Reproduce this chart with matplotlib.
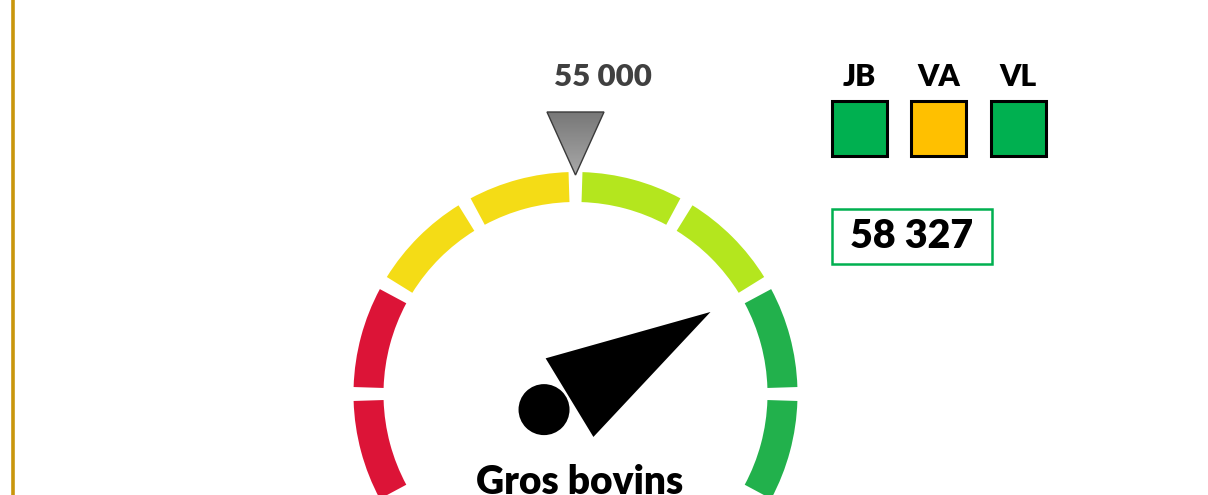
import numpy as np
import matplotlib
matplotlib.use("Agg")
import matplotlib.pyplot as plt
from matplotlib.patches import Wedge, Polygon, Circle, Rectangle

# ---------------- data ----------------
title = "Gros bovins"
value = 58327
target = 55000
gauge_min = 48200
gauge_max = 61800
zone_colors = ["#DC1437", "#DC1437", "#F4DC16", "#F4DC16",
               "#B4E61E", "#B4E61E", "#22B14C", "#22B14C"]
categories = ["JB", "VA", "VL"]
status_colors = ["#00B050", "#FFC000", "#00B050"]

def fmt(v):
    return f"{v:,}".replace(",", " ")

# ---------------- layout ----------------
W, H = 1208, 495
fig = plt.figure(figsize=(W / 100, H / 100), dpi=100)
ax = fig.add_axes([0, 0, 1, 1])
ax.set_xlim(0, W)
ax.set_ylim(0, H)
ax.set_aspect("equal")
ax.axis("off")

FONT = "Lato"
WEIGHT = "heavy"
cx, cy = 575.5, H - 394
r_out, ring_w = 222, 30
start_ang, span = 210.0, 240.0
gap = 3.6

def val2ang(v):
    return start_ang - (v - gauge_min) / (gauge_max - gauge_min) * span

# golden vertical line
ax.plot([13.3, 13.3], [0, H], color="#C9960C", lw=2.6, solid_capstyle="butt")

# gauge ring
n = len(zone_colors)
seg = span / n
for i, c in enumerate(zone_colors):
    a2 = start_ang - seg * i - gap / 2
    a1 = start_ang - seg * (i + 1) + gap / 2
    ax.add_patch(Wedge((cx, cy), r_out, a1, a2, width=ring_w, facecolor=c,
                       edgecolor="none"))

# needle
a = np.deg2rad(val2ang(value))
u = np.array([np.cos(a), np.sin(a)])
p = np.array([-u[1], u[0]])
c0 = np.array([cx, cy])
base = c0 - 7 * u
tip = base + 165 * u
tri = [base + 46 * p, base - 46 * p, tip]
ax.add_patch(Polygon(tri, closed=True, facecolor="black", edgecolor="none"))
ax.add_patch(Circle(c0 - 35 * u + 3 * p, 25.5, facecolor="black", edgecolor="none"))

# target marker (gradient triangle)
ta = np.deg2rad(val2ang(target))
apex = c0 + 219 * np.array([np.cos(ta), np.sin(ta)])
tw, th = 57, 63
tpoly = Polygon([[apex[0] - tw / 2, apex[1] + th], [apex[0] + tw / 2, apex[1] + th],
                 apex], closed=True, facecolor="none", edgecolor="#3A3A3A", lw=1.0,
                zorder=4)
grad = np.linspace(0, 1, 100).reshape(-1, 1)
im = ax.imshow(grad, cmap=matplotlib.colors.LinearSegmentedColormap.from_list(
    "g", ["#A8A8A8", "#787878"]), origin="lower",
    extent=[apex[0] - tw / 2, apex[0] + tw / 2, apex[1], apex[1] + th], zorder=3,
    aspect="auto")
ax.add_patch(tpoly)
im.set_clip_path(tpoly)

ax.text(603, H - 76.5, fmt(target), ha="center", va="center", fontsize=22.5,
        fontweight=WEIGHT, color="#404040", family=FONT)

# title
ax.text(580, H - 494, title, ha="center", va="baseline", fontsize=28,
        fontweight=WEIGHT, color="black", family=FONT)

# status squares
sq = 55
x0, step = 831.7, 79.5
for i, (cat, col) in enumerate(zip(categories, status_colors)):
    x = x0 + i * step
    ax.add_patch(Rectangle((x, H - 156), sq, sq, facecolor=col, edgecolor="black",
                           lw=2.2))
    ax.text(x + sq / 2, H - 77.5, cat, ha="center", va="center", fontsize=21.7,
            fontweight=WEIGHT, color="black", family=FONT)

# value box
ax.add_patch(Rectangle((832, H - 263.5), 160, 55, facecolor="white",
                       edgecolor="#00B050", lw=1.8))
ax.text(912, H - 236, fmt(value), ha="center", va="center", fontsize=28.4,
        fontweight=WEIGHT, color="black", family=FONT)

fig.savefig("out.png", dpi=100, facecolor="white")
